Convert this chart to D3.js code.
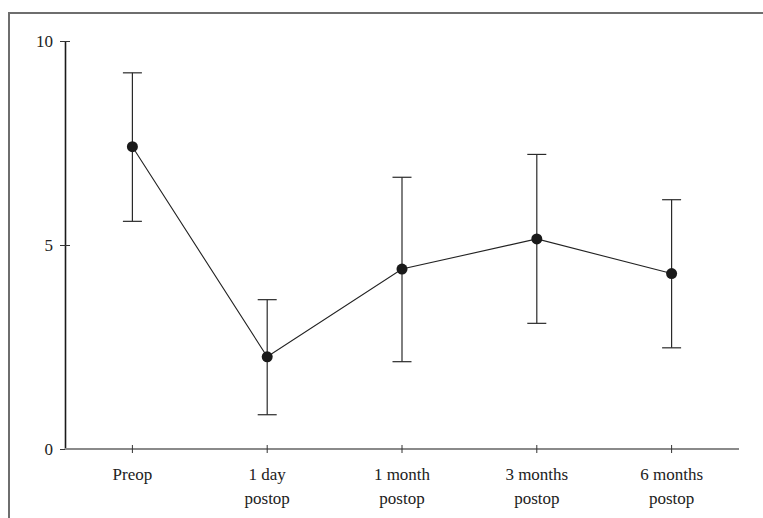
<!DOCTYPE html>
<html>
<head>
<meta charset="utf-8" />
<script src="https://d3js.org/d3.v7.min.js"></script>
<style>
  body { margin: 0; background: #fff; }
  svg text { font-family: "Liberation Serif", "DejaVu Serif", serif; fill: #222; }
</style>
</head>
<body>
<svg width="763" height="518"></svg>
<script>
// data
var categories = ["Preop", "1 day|postop", "1 month|postop", "3 months|postop", "6 months|postop"];
var means = [7.41, 2.26, 4.41, 5.15, 4.30];
var upper = [9.22, 3.66, 6.66, 7.22, 6.11];
var lower = [5.58, 0.84, 2.14, 3.08, 2.48];
var yTicks = [0, 5, 10];

var data = categories.map(function (c, i) {
    return { cat: c, mean: means[i], hi: upper[i], lo: lower[i] };
});

var svg = d3.select("svg");

// frame
svg.append("rect")
    .attr("x", 9).attr("y", 13)
    .attr("width", 780).attr("height", 540)
    .attr("fill", "none")
    .attr("stroke", "#6e6e6e")
    .attr("stroke-width", 2);

var plotL = 65, plotR = 739, plotT = 41, plotB = 449;

var x = d3.scalePoint()
    .domain(categories)
    .range([plotL, plotR])
    .padding(0.5);

var y = d3.scaleLinear()
    .domain([0, 10])
    .range([plotB, plotT]);

// y axis
var yAxis = svg.append("g")
    .attr("transform", "translate(" + plotL + ",0)")
    .call(d3.axisLeft(y).tickValues(yTicks).tickSize(5).tickSizeOuter(0).tickPadding(8));
yAxis.select(".domain").attr("stroke", "#1a1a1a").attr("stroke-width", 1.6);
yAxis.selectAll(".tick line").attr("stroke", "#333").attr("x2", 5).attr("x1", -5);
yAxis.selectAll(".tick text")
    .attr("font-size", "17px")
    .attr("font-family", "Liberation Serif, serif")
    .attr("fill", "#222")
    .attr("x", -12);

// x axis line
svg.append("line")
    .attr("x1", plotL).attr("x2", plotR)
    .attr("y1", plotB).attr("y2", plotB)
    .attr("stroke", "#8a8a8a")
    .attr("stroke-width", 2);

// x ticks
svg.selectAll(".xtick")
    .data(categories)
    .enter().append("line")
    .attr("class", "xtick")
    .attr("x1", function (d) { return x(d); })
    .attr("x2", function (d) { return x(d); })
    .attr("y1", plotB - 4).attr("y2", plotB + 4)
    .attr("stroke", "#333")
    .attr("stroke-width", 1);

// x labels
var lab = svg.selectAll(".xlab")
    .data(categories)
    .enter().append("text")
    .attr("class", "xlab")
    .attr("text-anchor", "middle")
    .attr("font-size", "17px");
lab.each(function (d) {
    var t = d3.select(this);
    d.split("|").forEach(function (s, i) {
        t.append("tspan")
            .attr("x", x(d))
            .attr("y", 480 + i * 24)
            .text(s);
    });
});

// error bars
var eb = svg.selectAll(".err")
    .data(data)
    .enter().append("g")
    .attr("class", "err")
    .attr("stroke", "#2a2a2a")
    .attr("stroke-width", 1.2);
eb.append("line")
    .attr("x1", function (d) { return x(d.cat); })
    .attr("x2", function (d) { return x(d.cat); })
    .attr("y1", function (d) { return y(d.hi); })
    .attr("y2", function (d) { return y(d.lo); });
eb.append("line")
    .attr("x1", function (d) { return x(d.cat) - 9.5; })
    .attr("x2", function (d) { return x(d.cat) + 9.5; })
    .attr("y1", function (d) { return y(d.hi); })
    .attr("y2", function (d) { return y(d.hi); });
eb.append("line")
    .attr("x1", function (d) { return x(d.cat) - 9.5; })
    .attr("x2", function (d) { return x(d.cat) + 9.5; })
    .attr("y1", function (d) { return y(d.lo); })
    .attr("y2", function (d) { return y(d.lo); });

// mean line
svg.append("path")
    .datum(data)
    .attr("fill", "none")
    .attr("stroke", "#222")
    .attr("stroke-width", 1.1)
    .attr("d", d3.line()
        .x(function (d) { return x(d.cat); })
        .y(function (d) { return y(d.mean); }));

// points
svg.selectAll(".pt")
    .data(data)
    .enter().append("circle")
    .attr("class", "pt")
    .attr("cx", function (d) { return x(d.cat); })
    .attr("cy", function (d) { return y(d.mean); })
    .attr("r", 5.5)
    .attr("fill", "#1a1a1a");
</script>
</body>
</html>
